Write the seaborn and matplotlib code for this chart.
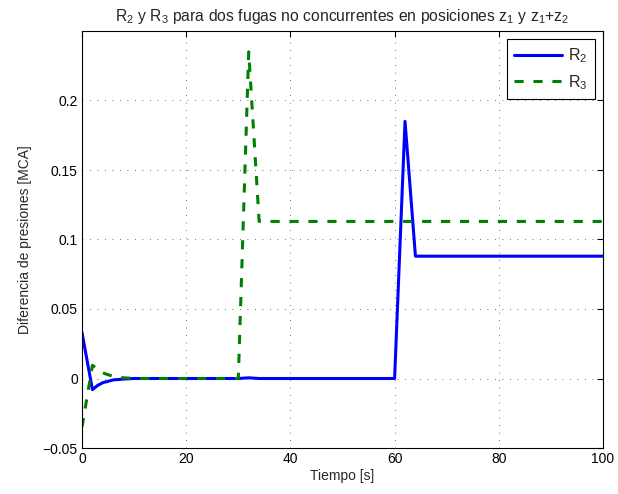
import matplotlib
matplotlib.use("Agg")
import matplotlib.pyplot as plt
import seaborn as sns
import pandas as pd
from matplotlib.ticker import FuncFormatter

# Data
time_r2 = [0, 2, 3, 4, 5, 6, 8, 10, 30, 32, 34, 60, 62, 64, 100]
r2 = [0.033, -0.008, -0.005, -0.003, -0.002, -0.001, -0.0004, 0.0, 0.0, 0.0005, 0.0, 0.0, 0.185, 0.088, 0.088]

time_r3 = [0, 2, 4, 6, 8, 10, 30, 32, 34, 100]
r3 = [-0.035, 0.0095, 0.004, 0.0015, 0.0005, 0.0, 0.0, 0.235, 0.113, 0.113]

x_ticks = [0, 20, 40, 60, 80, 100]
y_ticks = [-0.05, 0, 0.05, 0.1, 0.15, 0.2]

title = r'R$\mathregular{_2}$ y R$\mathregular{_3}$ para dos fugas no concurrentes en posiciones z$\mathregular{_1}$ y z$\mathregular{_1}$+z$\mathregular{_2}$'
labels = [r'R$\mathregular{_2}$', r'R$\mathregular{_3}$']

sns.set_style("white")
plt.rcParams['font.family'] = ['Liberation Sans', 'DejaVu Sans']
plt.rcParams['font.size'] = 10
plt.rcParams['mathtext.fontset'] = 'custom'
plt.rcParams['mathtext.rm'] = 'Liberation Sans'

df2 = pd.DataFrame({'t': time_r2, 'v': r2})
df3 = pd.DataFrame({'t': time_r3, 'v': r3})

fig = plt.figure(figsize=(6.18, 4.94), dpi=100)
ax = fig.add_axes([82/618, 1-448/494, (603-82)/618, (448-31)/494])

sns.lineplot(data=df2, x='t', y='v', ax=ax, color=(0, 0, 1), linewidth=2.2,
             label=labels[0], estimator=None, sort=False)
sns.lineplot(data=df3, x='t', y='v', ax=ax, color=(0, 0.5, 0), linewidth=2.2,
             linestyle='--', label=labels[1], estimator=None, sort=False)
ax.lines[1].set_dashes([3.0, 3.2])

ax.set_xlim(0, 100)
ax.set_ylim(-0.05, 0.25)
ax.set_xticks(x_ticks)
ax.set_yticks(y_ticks)
ax.yaxis.set_major_formatter(FuncFormatter(lambda v, p: ('%g' % v).replace('-', '\u2212')))
ax.tick_params(direction='in', length=4, width=0.8, top=True, right=True,
               labelsize=10, colors='black', pad=3)
for s in ax.spines.values():
    s.set_visible(True)
    s.set_color('black')
    s.set_linewidth(0.8)

ax.grid(True, linestyle=(0, (1, 8)), color='#444444', linewidth=0.6)
ax.set_xlabel('Tiempo [s]', fontsize=10, labelpad=2)
ax.set_ylabel('Diferencia de presiones [MCA]', fontsize=10, labelpad=8)
ax.set_title(title, fontsize=11.3, pad=7)

leg = ax.legend(loc='upper right', frameon=True, fancybox=False, edgecolor='black',
                framealpha=1, fontsize=11.5, handlelength=3.0, borderaxespad=0.5,
                labelspacing=0.5, handletextpad=0.4, borderpad=0.45)
leg.get_frame().set_linewidth(0.8)
leg.get_lines()[1].set_dashes([3.0, 3.2])

fig.savefig('out.png', dpi=100)
